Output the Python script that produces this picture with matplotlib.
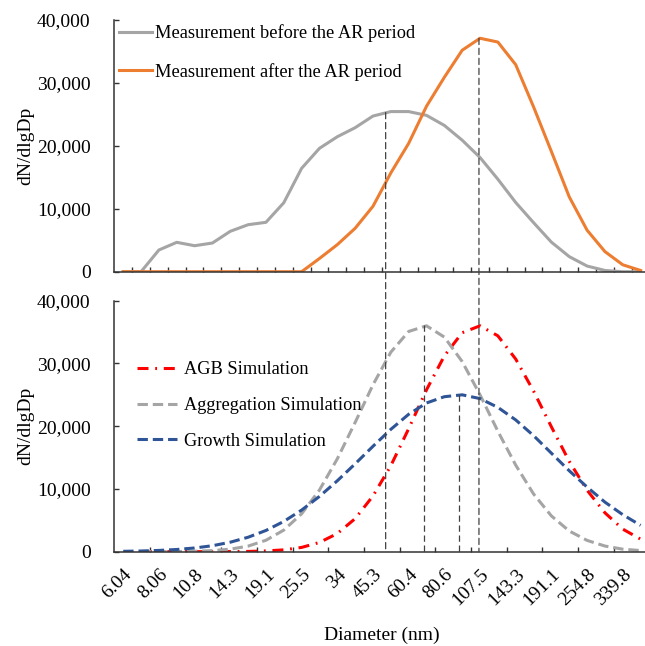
import numpy as np
import matplotlib
matplotlib.use("Agg")
import matplotlib.pyplot as plt
from matplotlib.patches import ConnectionPatch
from matplotlib.ticker import FuncFormatter

plt.rcParams['font.family'] = ['Liberation Serif', 'DejaVu Serif']

# particle diameter bins (nm), 16 per decade
diam = [6.04, 6.98, 8.06, 9.31, 10.8, 12.4, 14.3, 16.5, 19.1, 22.1,
        25.5, 29.4, 34, 39.2, 45.3, 52.3, 60.4, 69.8, 80.6, 93.1,
        107.5, 124.1, 143.3, 165.5, 191.1, 220.7, 254.8, 294.3, 339.8, 392.4]

# measured size distributions (dN/dlgDp)
before_ar = [0, 0, 3450, 4670, 4130, 4560, 6420, 7470, 7850, 10960,
             16430, 19610, 21450, 22890, 24740, 25450, 25450, 24850, 23250, 20900,
             18150, 14700, 11000, 7800, 4700, 2400, 900, 200, 0, 0]
after_ar = [0, 0, 0, 0, 0, 0, 0, 0, 0, 0,
            0, 2100, 4300, 6900, 10400, 15700, 20400, 26300, 30900, 35200,
            37100, 36500, 32900, 26200, 19100, 11900, 6600, 3200, 1100, 200]

# simulations
agb_sim = [np.nan, 0, 0, 0, 0, 10, 20, 40, 120, 290,
           680, 1470, 2890, 5270, 8880, 13700, 19600, 25800, 31200, 34900,
           36000, 34400, 30700, 25600, 19900, 14400, 9800, 6200, 3600, 2000]
aggregation_sim = [np.nan, 0, 10, 30, 70, 170, 400, 890, 1820, 3440,
                   6040, 9830, 14800, 20600, 26600, 31800, 35100, 36000, 34200, 30300,
                   25000, 19200, 13800, 9200, 5700, 3300, 1800, 900, 400, 180]
growth_sim = [60, 110, 200, 350, 590, 950, 1510, 2300, 3380, 4820,
              6630, 8810, 11300, 14000, 16800, 19500, 21900, 23700, 24700, 25000,
              24400, 23000, 21000, 18500, 15700, 12900, 10300, 7900, 5900, 4200]

# peak markers (category position, value)
peak_before = (14.71, 25300)
peak_after = (19.94, 37100)
peak_aggr = (16.88, 36100)
peak_growth = (18.84, 25000)

x = np.arange(len(diam))

fig = plt.figure(figsize=(6.45, 6.46), dpi=100)
ax1 = fig.add_axes([0.1772, 0.5794, 0.8298, 0.3896])
ax2 = fig.add_axes([0.1772, 0.1460, 0.8298, 0.3885])

axis_col = '#333333'
fmt = FuncFormatter(lambda v, p: format(int(v), ','))

for ax in (ax1, ax2):
    ax.set_xlim(-0.5, len(diam) - 0.5)
    ax.set_ylim(0, 40000)
    ax.set_yticks(range(0, 40001, 10000))
    ax.yaxis.set_major_formatter(fmt)
    for s in ['top', 'right']:
        ax.spines[s].set_visible(False)
    for s in ['left', 'bottom']:
        ax.spines[s].set_color(axis_col)
        ax.spines[s].set_linewidth(1.1)
    ax.tick_params(axis='y', direction='in', length=3.5, width=1.0, color=axis_col,
                   labelsize=14, pad=17)
    ax.set_ylabel('dN/dlgDp', fontsize=14, labelpad=2)

# top panel: measurements
ax1.plot(x, before_ar, color='#A5A5A5', lw=2.2, label='Measurement before the AR period')
ax1.plot(x, after_ar, color='#ED7D31', lw=2.2, label='Measurement after the AR period')
ax1.set_xticks(np.arange(0.5, len(diam) - 1, 1))
ax1.set_xticklabels([])
ax1.tick_params(axis='x', direction='in', length=3.8, width=1.0, color=axis_col)
ax1.legend(loc='upper left', bbox_to_anchor=(0.1845, 0.9624), bbox_transform=fig.transFigure,
           frameon=False, fontsize=13.2, handlelength=1.8, handletextpad=0.15,
           labelspacing=1.13, borderpad=0, borderaxespad=0)

# bottom panel: simulations
ax2.plot(x, agb_sim, color='#FF0000', lw=2.2, linestyle=(0, (3.6, 2.2, 0.6, 2.2)),
         label='AGB Simulation')
ax2.plot(x, aggregation_sim, color='#A5A5A5', lw=2.2, linestyle=(0, (3.4, 1.6)),
         label='Aggregation Simulation')
ax2.plot(x, growth_sim, color='#2F5597', lw=2.2, linestyle=(0, (3.4, 1.6)),
         label='Growth Simulation')
ax2.set_xticks(x[::2])
ax2.set_xticklabels([f'{d:g}' for d in diam[::2]], rotation=45, ha='right',
                    rotation_mode='anchor', fontsize=14)
ax2.tick_params(axis='x', which='major', length=0, pad=10)
ax2.set_xticks(np.arange(1.5, len(diam) - 1, 2), minor=True)
ax2.tick_params(axis='x', which='minor', direction='in', length=3.8, width=1.0, color=axis_col)
ax2.set_xlabel('Diameter (nm)', fontsize=14, labelpad=13)
ax2.legend(loc='upper left', bbox_to_anchor=(0.2124, 0.4407), bbox_transform=fig.transFigure,
           frameon=False, fontsize=13.2, handlelength=2.2, handletextpad=0.37,
           labelspacing=1.02, borderpad=0, borderaxespad=0)

# dashed guide lines
guide = dict(color='#404040', lw=0.9, linestyle=(0, (5, 3)))
for xp, yp in (peak_before, peak_after):
    con = ConnectionPatch(xyA=(xp, yp), coordsA=ax1.transData,
                          xyB=(xp, 0), coordsB=ax2.transData, **guide)
    fig.add_artist(con)
for xp, yp in (peak_aggr, peak_growth):
    ax2.plot([xp, xp], [yp, 0], **guide)

fig.savefig('out.png', dpi=100)
